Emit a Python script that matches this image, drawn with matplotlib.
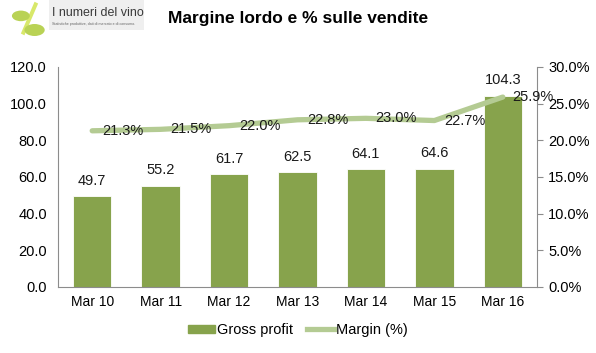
import matplotlib.pyplot as plt
from matplotlib.patches import FancyBboxPatch
import numpy as np

years = ['Mar 10', 'Mar 11', 'Mar 12', 'Mar 13', 'Mar 14', 'Mar 15', 'Mar 16']
gross_profit = [49.7, 55.2, 61.7, 62.5, 64.1, 64.6, 104.3]
margin_pct = [21.3, 21.5, 22.0, 22.8, 23.0, 22.7, 25.9]

bar_color = '#87a34c'
line_color = '#b4cb93'
spine_color = '#8c8c8c'

plt.rcParams['font.family'] = ['Liberation Sans', 'DejaVu Sans']

fig = plt.figure(figsize=(5.96, 3.53), dpi=100, facecolor='w')
ax = fig.add_axes([58 / 596, 1 - 287 / 353, (537 - 58) / 596, 220 / 353])

x = np.arange(len(years))
ax.bar(x, gross_profit, width=0.56, color=bar_color, edgecolor='white', linewidth=0.6, zorder=2)
for xi, v in zip(x, gross_profit):
    ax.annotate(f'{v:.1f}', (xi, v), xytext=(0, 6), textcoords='offset points',
                ha='center', va='bottom', fontsize=10.5, color='#1a1a1a')

ax.set_xlim(-0.5, len(years) - 0.5)
ax.set_ylim(0, 120)
ax.set_yticks(np.arange(0, 121, 20))
ax.set_yticklabels([f'{t:.1f}' for t in np.arange(0, 121, 20)], fontsize=10.5)
ax.set_xticks(x)
ax.set_xticklabels(years, fontsize=10)
ax.tick_params(axis='y', length=0, pad=8)
ax.tick_params(axis='x', length=0, pad=6)
for s in ['top', 'right']:
    ax.spines[s].set_visible(False)
for s in ['left', 'bottom']:
    ax.spines[s].set_color(spine_color)

ax2 = ax.twinx()
ax2.plot(x, margin_pct, color=line_color, linewidth=3.8, solid_capstyle='round', zorder=3)
for xi, v in zip(x, margin_pct):
    ax2.annotate(f'{v:.1f}%', (xi, v), xytext=(7, 0), textcoords='offset points',
                 ha='left', va='center', fontsize=10.5, color='#1a1a1a')
ax2.set_ylim(0, 30)
ax2.set_yticks(np.arange(0, 31, 5))
ax2.set_yticklabels([f'{t:.1f}%' for t in np.arange(0, 31, 5)], fontsize=10.5)
ax2.tick_params(axis='y', length=4, color=spine_color, pad=4)
for s in ['top', 'left', 'bottom']:
    ax2.spines[s].set_visible(False)
ax2.spines['right'].set_color(spine_color)

# legend
h1 = plt.Rectangle((0, 0), 1, 1, color=bar_color)
h2 = plt.Line2D([], [], color=line_color, linewidth=3.8)
fig.legend([h1, h2], ['Gross profit', 'Margin (%)'], loc='center', bbox_to_anchor=(0.5, 0.065),
           ncol=2, frameon=False, fontsize=10.5, handlelength=1.8, handleheight=0.45,
           columnspacing=1.0, handletextpad=0.15)

# title
fig.text(0.5, 0.949, 'Margine lordo e % sulle vendite', ha='center', va='center',
         fontsize=12.5, fontweight='bold')

# logo
fig.patches.append(FancyBboxPatch((0.082, 0.915), 0.16, 0.085, boxstyle='square,pad=0',
                                  transform=fig.transFigure, facecolor='#efefef', edgecolor='none'))
fig.text(0.087, 0.963, 'I numeri del vino', fontsize=9, color='#3a3a3a', va='center')
fig.text(0.088, 0.932, 'Statistiche produttive, dati di mercato e di consumo.', fontsize=2.6,
         color='#666666', va='center')
fig.patches.append(plt.Polygon([[0.035, 0.905], [0.058, 0.995], [0.064, 0.99], [0.041, 0.9]],
                               closed=True, transform=fig.transFigure, facecolor='#d8e86a',
                               edgecolor='none'))
fig.patches.append(plt.Circle((0.035, 0.955), 0.015, transform=fig.transFigure,
                              facecolor='#b9d255', edgecolor='none'))
fig.patches.append(plt.Circle((0.058, 0.915), 0.017, transform=fig.transFigure,
                              facecolor='#b9d255', edgecolor='none'))

fig.savefig('out.png', dpi=100)
